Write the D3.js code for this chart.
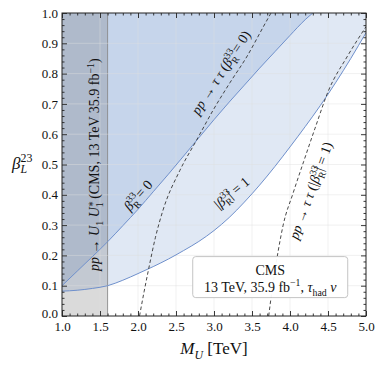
<!DOCTYPE html>
<html>
<head>
<meta charset="utf-8">
<script src="https://cdn.jsdelivr.net/npm/d3@7"></script>
<style>
  html, body { margin: 0; padding: 0; background: #fff; }
  svg text { font-family: "Liberation Serif", "DejaVu Serif", serif; fill: #111; }
</style>
</head>
<body>
<div id="chart"></div>
<script>
// ---- data ----
const xTicks = [1.0, 1.5, 2.0, 2.5, 3.0, 3.5, 4.0, 4.5, 5.0];
const yTicks = [0.0, 0.1, 0.2, 0.3, 0.4, 0.5, 0.6, 0.7, 0.8, 0.9, 1.0];

// CMS pair production exclusion (M_U below this)
const pairLimit = [1.0, 1.6];

// beta_R^33 = 0 boundary (excluded above)
const r0Mass = [1.0, 1.2, 1.4, 1.6, 1.8, 2.0, 2.2, 2.4, 2.6, 2.8, 3.0, 3.2, 3.4, 3.6, 3.8, 4.0, 4.2, 4.3];
const r0Beta = [0.100, 0.148, 0.196, 0.245, 0.298, 0.352, 0.410, 0.468, 0.528, 0.588, 0.648, 0.706, 0.762, 0.818, 0.872, 0.926, 0.978, 1.0];

// |beta_R^33| = 1 boundary (excluded above)
const r1Mass = [1.0, 1.2, 1.4, 1.6, 1.8, 2.0, 2.2, 2.4, 2.6, 2.8, 3.0, 3.2, 3.4, 3.6, 3.8, 4.0, 4.2, 4.4, 4.6, 4.8, 5.0];
const r1Beta = [0.082, 0.085, 0.091, 0.100, 0.118, 0.140, 0.163, 0.188, 0.216, 0.246, 0.282, 0.325, 0.376, 0.432, 0.493, 0.558, 0.625, 0.695, 0.770, 0.850, 0.935];

// pp -> tau tau, beta_R^33 = 0
const tt0Mass = [2.02, 2.08, 2.14, 2.23, 2.33, 2.55, 2.77, 2.99, 3.21, 3.43, 3.65, 3.75];
const tt0Beta = [0.0, 0.08, 0.155, 0.26, 0.35, 0.48, 0.58, 0.68, 0.77, 0.855, 0.955, 1.0];

// pp -> tau tau, |beta_R^33| = 1
const tt1Mass = [3.72, 3.74, 3.79, 3.845, 3.91, 4.04, 4.18, 4.33, 4.51, 4.75, 5.0];
const tt1Beta = [0.0, 0.04, 0.13, 0.215, 0.30, 0.405, 0.51, 0.62, 0.746, 0.855, 0.955];

const zip = (a, b) => a.map((m, i) => [m, b[i]]);

// ---- layout ----
const W = 378, H = 374;
const margin = { top: 13, right: 12, bottom: 58, left: 62 };
const iw = W - margin.left - margin.right;
const ih = H - margin.top - margin.bottom;

const svg = d3.select("#chart").append("svg")
    .attr("width", W)
    .attr("height", H);

const g = svg.append("g").attr("transform", `translate(${margin.left},${margin.top})`);

const x = d3.scaleLinear().domain([1, 5]).range([0, iw]);
const y = d3.scaleLinear().domain([0, 1]).range([ih, 0]);

svg.append("defs").append("clipPath").attr("id", "plot")
  .append("rect").attr("width", iw).attr("height", ih);

const plot = g.append("g").attr("clip-path", "url(#plot)");

const blue = "#4a74c0";

// excluded regions (area above each boundary)
const above = d3.area()
    .x(d => x(d[0]))
    .y0(y(1))
    .y1(d => y(d[1]))
    .curve(d3.curveMonotoneX);

plot.append("path")
    .datum(zip(r1Mass, r1Beta))
    .attr("d", above)
    .attr("fill", blue)
    .attr("fill-opacity", 0.17);

plot.append("path")
    .datum(zip(r0Mass, r0Beta))
    .attr("d", above)
    .attr("fill", blue)
    .attr("fill-opacity", 0.17);

// CMS pair production band
plot.append("rect")
    .attr("x", x(pairLimit[0]))
    .attr("y", 0)
    .attr("width", x(pairLimit[1]) - x(pairLimit[0]))
    .attr("height", ih)
    .attr("fill", "#6b6b6b")
    .attr("fill-opacity", 0.25);

plot.append("line")
    .attr("x1", x(pairLimit[1])).attr("x2", x(pairLimit[1]))
    .attr("y1", 0).attr("y2", ih)
    .attr("stroke", "#8a8a8a")
    .attr("stroke-width", 0.9);

// grid
plot.append("g").selectAll("line")
  .data(xTicks.slice(1, -1))
  .enter().append("line")
    .attr("x1", d => x(d)).attr("x2", d => x(d))
    .attr("y1", 0).attr("y2", ih)
    .attr("stroke", "#dedede").attr("stroke-opacity", 0.55).attr("stroke-width", 0.8);

plot.append("g").selectAll("line")
  .data(yTicks.slice(1, -1))
  .enter().append("line")
    .attr("y1", d => y(d)).attr("y2", d => y(d))
    .attr("x1", 0).attr("x2", iw)
    .attr("stroke", "#dedede").attr("stroke-opacity", 0.55).attr("stroke-width", 0.8);

// boundaries
const line = d3.line()
    .x(d => x(d[0]))
    .y(d => y(d[1]))
    .curve(d3.curveMonotoneX);

[zip(r0Mass, r0Beta), zip(r1Mass, r1Beta)].forEach(d => {
  plot.append("path")
      .datum(d)
      .attr("d", line)
      .attr("fill", "none")
      .attr("stroke", "#6f90cc")
      .attr("stroke-width", 1);
});

[zip(tt0Mass, tt0Beta), zip(tt1Mass, tt1Beta)].forEach(d => {
  plot.append("path")
      .datum(d)
      .attr("d", line)
      .attr("fill", "none")
      .attr("stroke", "#333")
      .attr("stroke-width", 0.9)
      .attr("stroke-dasharray", "3.5,2.5");
});

// ---- rich text helper: parts = [text, opts] ----
function rich(text, parts, fs) {
  let level = 0, lastW = 0;
  parts.forEach(p => {
    const o = p[1] || {};
    const ts = text.append("tspan").text(p[0]);
    if (o.it) ts.style("font-style", "italic");
    const target = o.sup ? -0.4 * fs : o.sub ? 0.28 * fs : 0;
    if (target !== level) ts.attr("dy", target - level);
    level = target;
    if (o.sup || o.sub) ts.style("font-size", (fs * 0.7) + "px");
    if (o.back) ts.attr("dx", -lastW);
    lastW = ts.node().getComputedTextLength();
  });
  return text;
}

// rotated label, centred on (cx, cy) in plot coords
function label(cx, cy, angle, fs, parts) {
  const t = g.append("text").style("font-size", fs + "px");
  rich(t, parts, fs);
  const bb = t.node().getBBox();
  t.attr("transform",
    `translate(${cx},${cy}) rotate(${angle}) translate(${-(bb.x + bb.width / 2)},${-(bb.y + bb.height / 2)})`);
  return t;
}

const betaR = [["β", { it: true }], ["33", { sup: true }], ["R", { sub: true, back: true }]];
const px = (X, Y) => [X - margin.left, Y - margin.top];

label(...px(95, 165), -90, 14, [
  ["pp", { it: true }], [" → "], ["U", { it: true }], ["1", { sub: true }], [" "],
  ["U", { it: true }], ["∗", { sup: true }], ["1", { sub: true, back: true }],
  [" (CMS, 13 TeV 35.9 fb"], ["−1", { sup: true }], [")"]
]);

label(...px(138, 196), -49, 14, betaR.concat([[" = 0"]]));

label(...px(221, 73), -57, 14, [
  ["pp", { it: true }], [" → "], ["τ τ", { it: true }], [" ("]
].concat(betaR, [[" = 0)"]]));

label(...px(232, 193), -40, 14, [["|"]].concat(betaR, [["| = 1"]]));

label(...px(311, 191), -70, 14, [
  ["pp", { it: true }], [" → "], ["τ τ", { it: true }], [" (|"]
].concat(betaR, [["| = 1)"]]));

// ---- legend box ----
const lx = x(2.72), ly = y(0.196);
const box = g.append("g");
box.append("rect")
    .attr("x", lx).attr("y", ly)
    .attr("width", 155).attr("height", 41)
    .attr("rx", 3)
    .attr("fill", "#fff").attr("fill-opacity", 0.95)
    .attr("stroke", "#c4c4c4").attr("stroke-width", 1);
box.append("text")
    .attr("x", lx + 77.5).attr("y", ly + 18)
    .attr("text-anchor", "middle")
    .style("font-size", "14px")
    .text("CMS");
rich(box.append("text")
    .attr("x", lx + 77.5).attr("y", ly + 35)
    .attr("text-anchor", "middle")
    .style("font-size", "14px"),
  [["13 TeV, 35.9 fb"], ["−1", { sup: true }], [", "], ["τ", { it: true }], ["had", { sub: true }], [" "], ["ν", { it: true }]],
  14);

// ---- axes ----
const minorX = d3.range(10, 51).map(d => d / 10).filter(d => Math.round(d * 10) % 5 !== 0);
const minorY = d3.range(0, 51).map(d => d / 50).filter(d => Math.round(d * 50) % 5 !== 0);

function styleAxis(a) {
  a.select(".domain").remove();
  a.selectAll("line").attr("stroke", "#222").attr("stroke-width", 0.9);
  a.selectAll("text").style("font-size", "13px").attr("fill", "#111")
    .style("font-family", '"Liberation Serif", serif');
}

g.append("g").attr("transform", `translate(0,${ih})`)
  .call(d3.axisBottom(x).tickValues(xTicks).tickSize(-5).tickPadding(6).tickFormat(d3.format(".1f")))
  .call(styleAxis);
g.append("g").attr("transform", `translate(0,${ih})`)
  .call(d3.axisBottom(x).tickValues(minorX).tickSize(-2.5).tickFormat(""))
  .call(styleAxis);
g.append("g")
  .call(d3.axisTop(x).tickValues(xTicks).tickSize(-5).tickFormat(""))
  .call(styleAxis);
g.append("g")
  .call(d3.axisTop(x).tickValues(minorX).tickSize(-2.5).tickFormat(""))
  .call(styleAxis);

g.append("g")
  .call(d3.axisLeft(y).tickValues(yTicks).tickSize(-5).tickPadding(4).tickFormat(d3.format(".1f")))
  .call(styleAxis)
  .call(a => a.selectAll("text").filter(d => d === 0).attr("dy", "0.1em"));
g.append("g")
  .call(d3.axisLeft(y).tickValues(minorY).tickSize(-2.5).tickFormat(""))
  .call(styleAxis);
g.append("g").attr("transform", `translate(${iw},0)`)
  .call(d3.axisRight(y).tickValues(yTicks).tickSize(-5).tickFormat(""))
  .call(styleAxis);
g.append("g").attr("transform", `translate(${iw},0)`)
  .call(d3.axisRight(y).tickValues(minorY).tickSize(-2.5).tickFormat(""))
  .call(styleAxis);

g.append("rect")
    .attr("width", iw).attr("height", ih)
    .attr("fill", "none")
    .attr("stroke", "#222").attr("stroke-width", 1);

// axis titles
rich(g.append("text")
    .attr("x", iw / 2).attr("y", ih + 38)
    .attr("text-anchor", "middle")
    .style("font-size", "17px"),
  [["M", { it: true }], ["U", { it: true, sub: true }], [" [TeV]"]], 17);

rich(g.append("text")
    .attr("x", -50).attr("y", y(0.5) + 4)
    .style("font-size", "17px"),
  [["β", { it: true }], ["23", { sup: true }], ["L", { it: true, sub: true, back: true }]], 17);
</script>
</body>
</html>
